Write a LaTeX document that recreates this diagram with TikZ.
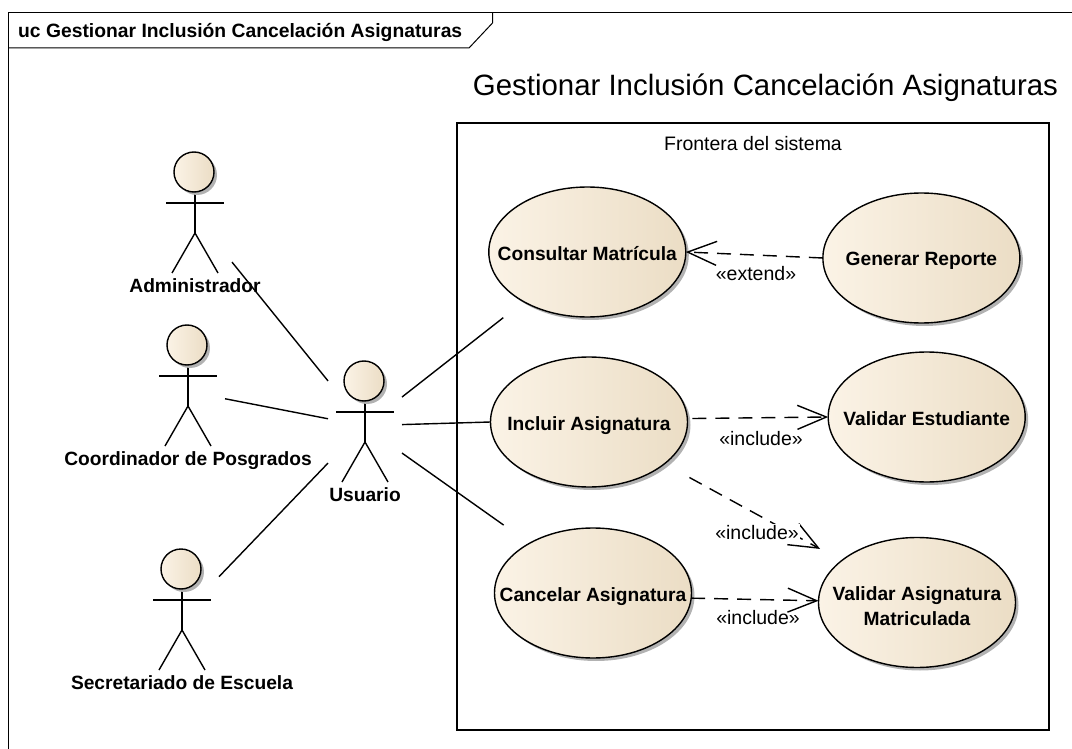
\documentclass[tikz,border=0pt]{standalone}
\usepackage{fontspec}
\setmainfont{Liberation Sans}
\usetikzlibrary{shapes.geometric,shadows,arrows.meta}
\definecolor{crema}{HTML}{FBF3E6}
\definecolor{tostado}{HTML}{EBDDC5}
\newcommand{\rotulo}[2][-8pt]{\makebox[0pt]{\raisebox{#1}[0pt][0pt]{#2}}}
\tikzset{
    relleno/.style={left color=crema,middle color=crema,right color=tostado,
        drop shadow={shadow xshift=3pt,shadow yshift=-3pt,fill=black!30,opacity=1}},
    casouso/.style={ellipse,draw,line width=1.4pt,relleno,inner sep=0pt,outer sep=0pt,
        minimum width=197pt,minimum height=130pt,align=center,font=\fontsize{19.2}{25}\selectfont\bfseries},
    cabeza/.style={circle,draw,line width=1.4pt,relleno,inner sep=0pt,outer sep=0pt,minimum size=40pt},
    actorbox/.style={rectangle,inner sep=0pt,outer sep=0pt,minimum width=74pt,minimum height=144pt},
    actorlabel/.style={font=\fontsize{19.2}{22}\selectfont\bfseries,inner sep=0pt,anchor=base},
    estereotipo/.style={font=\fontsize{19.5}{22}\selectfont,inner sep=1pt,anchor=base},
    asociacion/.style={line width=1.4pt},
    dependencia/.style={line width=1.4pt,dash pattern=on 14pt off 9pt,
        -{Straight Barb[length=29pt,width=24pt,line width=1.4pt]}}
}

\begin{document}
\begin{tikzpicture}[x=1pt,y=-1pt]
    \useasboundingbox (0,0) rectangle (1072,749);
    \draw[line width=1pt] (8,749) -- (8,12.5) -- (1072,12.5);
    \draw[line width=1pt] (8,48) -- (469,48) -- (492.5,23) -- (492.5,12.5);
    \node[anchor=base west,inner sep=0pt,font=\fontsize{19.3}{22}\selectfont\bfseries] (marco) at (18,37.3)
        {uc Gestionar Inclusión Cancelación Asignaturas};
    \node[anchor=base,inner sep=0pt,font=\fontsize{29.4}{32}\selectfont] (titulo) at (765.5,96)
        {Gestionar Inclusión Cancelación Asignaturas};

    \node[draw,line width=1.2pt,inner sep=0pt,outer sep=0pt,minimum width=592pt,minimum height=607pt] (frontera) at (753,426.5) {};
    \node[anchor=base,inner sep=0pt,font=\fontsize{19.5}{22}\selectfont] (fronteralabel) at (753,150.5) {Frontera del sistema};

    \foreach \nombre/\hx/\hy/\etiqueta in {admin/194/172/Administrador,
        coordinador/187/345/Coordinador de Posgrados,
        secretariado/181/569/Secretariado de Escuela,
        usuario/364/381/Usuario} {
        \begin{scope}[shift={(\hx,\hy)}]
            \node[actorbox] (\nombre) at (1,41) {};
            \draw[line width=1.4pt] (-28,31) -- (30,31);
            \draw[line width=1.4pt] (1,20) -- (1,61);
            \draw[line width=1.4pt] (-22,101) -- (1,61) -- (24,101);
            \node[cabeza] (\nombre-head) at (0,0) {};
            \node[actorlabel] (\nombre-label) at (1,120.7) {\etiqueta};
        \end{scope}
    }

    \node[casouso] (consultar) at (587.3,252) {\rotulo{Consultar Matrícula}};
    \node[casouso] (incluir) at (589,422) {\rotulo{Incluir Asignatura}};
    \node[casouso] (cancelar) at (593,593) {\rotulo{Cancelar Asignatura}};
    \node[casouso] (generar) at (921.4,258) {\rotulo{Generar Reporte}};
    \node[casouso] (estudiante) at (926.7,417) {\rotulo{Validar Estudiante}};
    \node[casouso] (matriculada) at (917,602.5) {\rotulo[-10pt]{Validar Asignatura}\\\rotulo[-10pt]{Matriculada}};

    \draw[asociacion] (admin.-53.5) -- (usuario.132.8);
    \draw[asociacion] (coordinador.-19.4) -- (usuario.175.4);
    \draw[asociacion] (secretariado.42.6) -- (usuario.228);
    \draw[asociacion,shorten >=26pt] (usuario.34) -- (consultar.218);
    \draw[asociacion] (usuario.-4.6) -- (incluir.west);
    \draw[asociacion,shorten >=31.6pt] (usuario.-40) -- (cancelar.142.9);

    \draw[dependencia] (generar.west) -- (consultar.east);
    \draw[dependencia,shorten <=5pt] (incluir.2) -- (estudiante.west);
    \draw[dependencia,shorten <=28.5pt,shorten >=24.5pt] (incluir.-29.2) -- (matriculada.151);
    \draw[dependencia] (cancelar.-3) -- (matriculada.179);

    \node[estereotipo] (extiende) at (756,280.7) {«extend»};
    \node[estereotipo] (incluye1) at (761,445) {«include»};
    \node[estereotipo,fill=white] (incluye2) at (757,539.3) {«include»};
    \node[estereotipo] (incluye3) at (758,624.3) {«include»};
\end{tikzpicture}
\end{document}
